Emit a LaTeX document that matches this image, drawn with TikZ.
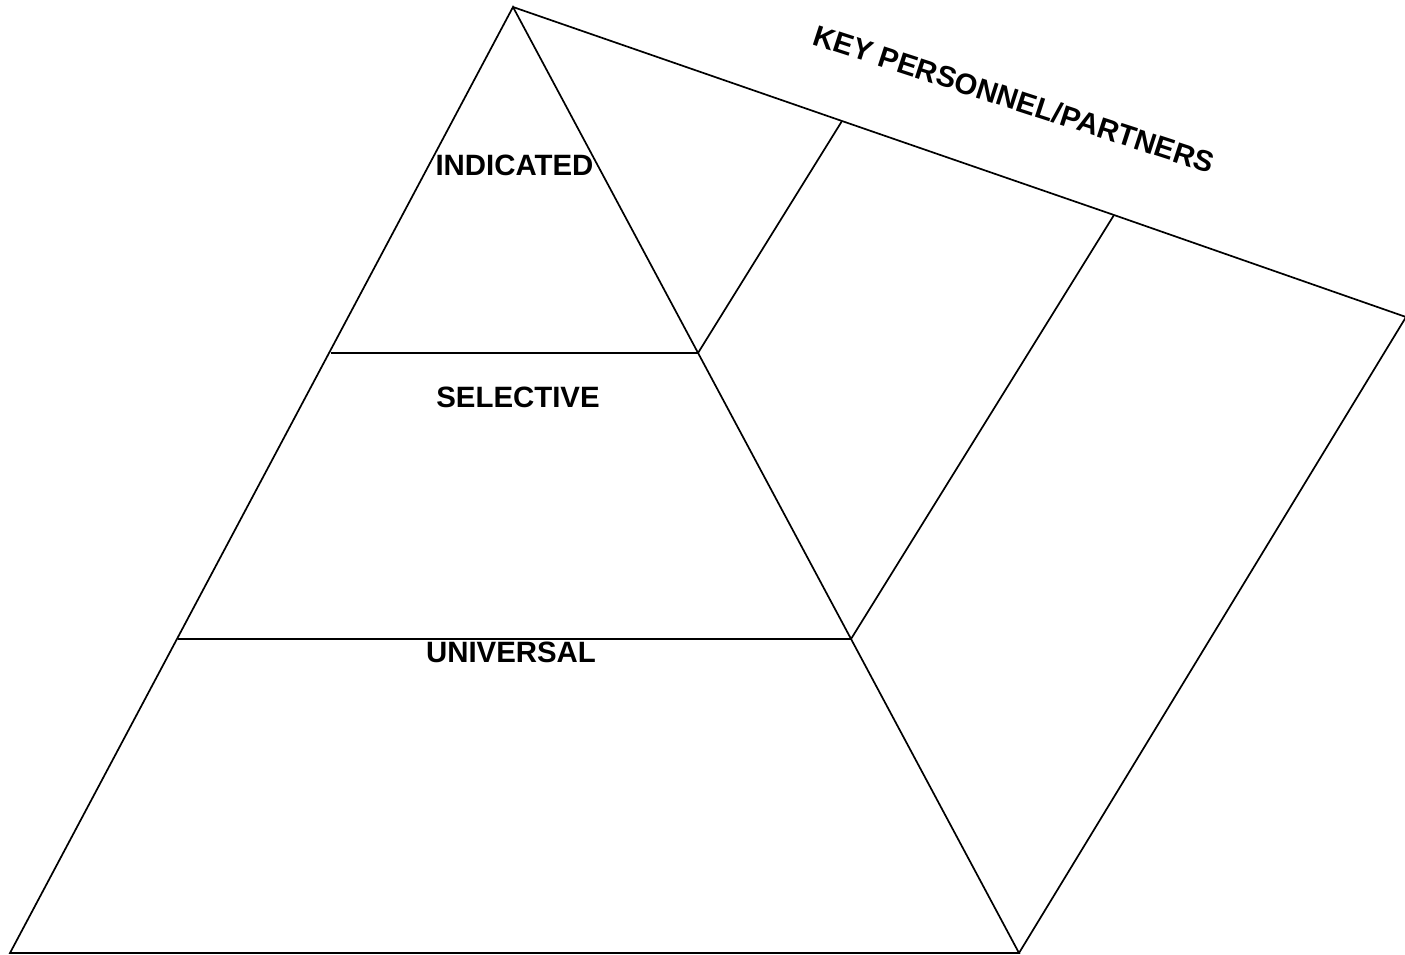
\documentclass[tikz,border=0pt]{standalone}
\usepackage{fontspec}
\setmainfont{Liberation Sans}
\begin{document}
\begin{tikzpicture}[x=1pt,y=-1pt,
  edge/.style={line width=1.7pt,line join=miter},
  lbl/.style={font=\bfseries\fontsize{29.4}{32}\selectfont,inner sep=0pt}]
\useasboundingbox (0,0) rectangle (1405,954);
\coordinate (apex) at (513,7);
\coordinate (bl) at (10,953);
\coordinate (br) at (1019,953);
\coordinate (tr) at (1406,317);
\coordinate (l1) at (331,353);
\coordinate (r1) at (698,353);
\coordinate (l2) at (178,639);
\coordinate (r2) at (851,639);
\coordinate (d1) at (842,121);
\coordinate (d2) at (1114,215);
\draw[edge] (apex) -- (bl) -- (br) -- cycle;
\draw[edge] (apex) -- (d1) -- (d2) -- (tr) -- (br);
\draw[edge] (l1) -- (r1);
\draw[edge] (l2) -- (r2);
\draw[edge] (d1) -- (r1);
\draw[edge] (d2) -- (r2);
\node[lbl] (ind) at (514.5,165) {INDICATED};
\node[lbl] (sel) at (518,397) {SELECTIVE};
\node[lbl] (uni) at (511,652) {UNIVERSAL};
\node[lbl,rotate=-18] (key) at (1014,99) {KEY PERSONNEL/PARTNERS};
\end{tikzpicture}
\end{document}
